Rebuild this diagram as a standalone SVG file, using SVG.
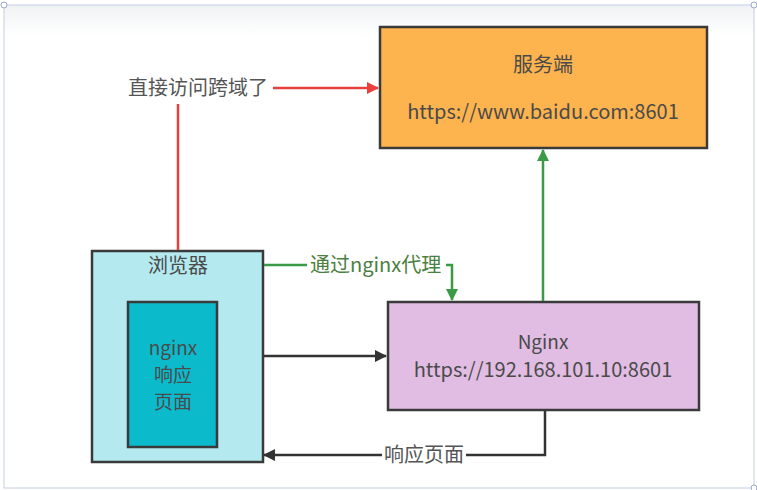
<svg xmlns="http://www.w3.org/2000/svg" width="757" height="490" viewBox="0 0 757 490">
<defs>
<linearGradient id="topfade" x1="0" y1="0" x2="0" y2="1"><stop offset="0" stop-color="#f0f2f4"/><stop offset="1" stop-color="#ffffff"/></linearGradient>
<marker id="ar" markerWidth="12" markerHeight="12" refX="11" refY="6" orient="auto" markerUnits="userSpaceOnUse"><path d="M0,0 L12,6 L0,12 Z" fill="#e8403f"/></marker>
<marker id="ag" markerWidth="12" markerHeight="12" refX="11" refY="6" orient="auto" markerUnits="userSpaceOnUse"><path d="M0,0 L12,6 L0,12 Z" fill="#3a9a45"/></marker>
<marker id="ak" markerWidth="12" markerHeight="12" refX="11" refY="6" orient="auto" markerUnits="userSpaceOnUse"><path d="M0,0 L12,6 L0,12 Z" fill="#333"/></marker>
</defs>
<style>
.box{stroke:#3a3a3a;stroke-width:2.5}
.t{font-family:"Noto Sans CJK SC","Liberation Sans",sans-serif;font-size:20px;text-anchor:middle;fill:#4a4a4a}
.s{font-size:19px}
.lbl{font-family:"Noto Sans CJK SC","Liberation Sans",sans-serif;font-size:20px;fill:#555}
.c{fill:none;stroke-width:2.5}
</style>
<rect x="0" y="0" width="757" height="490" fill="#ffffff"/>
<rect x="4" y="5" width="750" height="30" fill="url(#topfade)"/>
<rect x="4" y="5" width="750" height="483" fill="none" stroke="#c5cde6" stroke-width="1"/>
<circle cx="4" cy="5" r="3" fill="#fff" stroke="#9aa6cc"/>
<circle cx="754" cy="5" r="3" fill="#fff" stroke="#9aa6cc"/>
<circle cx="754" cy="488" r="3" fill="#fff" stroke="#9aa6cc"/>

<g id="server">
<rect class="box" x="380" y="27" width="327" height="121" fill="#fdb44e"/>
<text class="t" x="543" y="72">服务端</text>
<text class="t" x="543" y="119">https://www.baidu.com:8601</text>
</g>
<g id="browser">
<rect class="box" x="92" y="251" width="171" height="211" fill="#b3e9ef"/>
<text class="t" x="178" y="273">浏览器</text>
</g>
<g id="page">
<rect class="box" x="128" y="302" width="89" height="145" fill="#0bbbcc"/>
<text class="t s" x="173" y="355">nginx</text>
<text class="t s" x="173" y="382">响应</text>
<text class="t s" x="173" y="409">页面</text>
</g>
<g id="nginx">
<rect class="box" x="388" y="302" width="311" height="108" fill="#e1bde3"/>
<text class="t s" x="543" y="349">Nginx</text>
<text class="t" x="543" y="377">https://192.168.101.10:8601</text>
</g>

<g id="connectors">
<path class="c" stroke="#e8403f" d="M178,250 V104"/>
<text class="lbl" x="128" y="95">直接访问跨域了</text>
<path class="c" stroke="#e8403f" d="M273,88 H378" marker-end="url(#ar)"/>

<path class="c" stroke="#3a9a45" d="M264,265 H307"/>
<text class="lbl" x="310" y="272" style="fill:#4a8040">通过nginx代理</text>
<path class="c" stroke="#3a9a45" d="M446,265 H452 V300" marker-end="url(#ag)"/>

<path class="c" stroke="#3a9a45" d="M543,301 V150" marker-end="url(#ag)"/>

<path class="c" stroke="#333" d="M264,356 H386" marker-end="url(#ak)"/>

<path class="c" stroke="#333" d="M545,411 V455 H466"/>
<text class="lbl" x="384" y="462">响应页面</text>
<path class="c" stroke="#333" d="M382,455 H264" marker-end="url(#ak)"/>
</g>
</svg>
